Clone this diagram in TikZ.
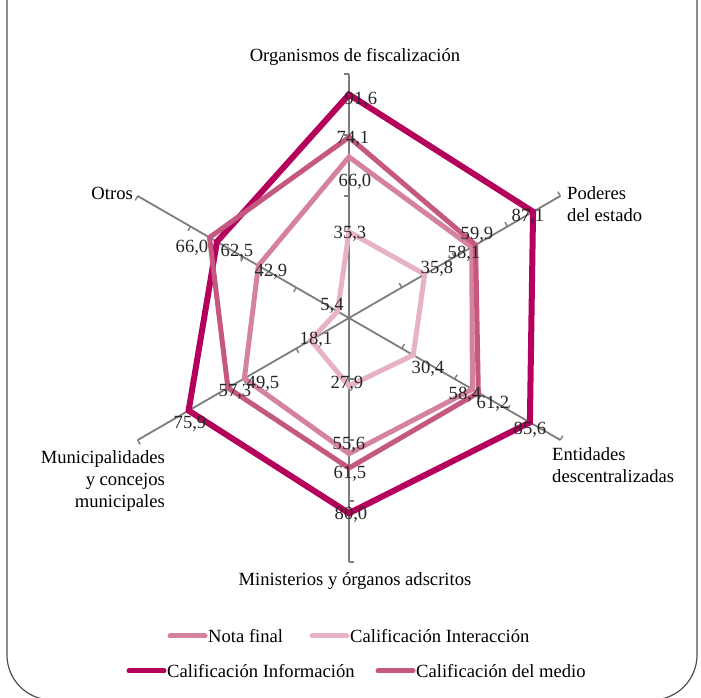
\documentclass[tikz,border=0pt]{standalone}
\usepackage{fontspec}
\setmainfont{Liberation Serif}
\definecolor{notaC}{RGB}{213,130,160}
\definecolor{interC}{RGB}{231,178,197}
\definecolor{infoC}{RGB}{180,0,90}
\definecolor{medioC}{RGB}{197,88,128}
\definecolor{axisC}{RGB}{125,125,125}
\definecolor{frameC}{RGB}{80,80,80}
\begin{document}
\begin{tikzpicture}[x=1pt,y=1pt,
  txt/.style={font=\fontsize{18.6}{22}\selectfont, inner sep=0pt},
  vlabel/.style={txt, text depth=0pt, text=black!85},
  axisline/.style={draw=axisC, line width=1.8pt},
  notaline/.style={draw=notaC, line width=5pt},
  interline/.style={draw=interC, line width=5pt},
  infoline/.style={draw=infoC, line width=6pt},
  medioline/.style={draw=medioC, line width=5pt},
  swatch/.style={line cap=round, line width=5pt}]
\clip (0,0) rectangle (701,698);
% outer frame, its top edge runs off the page
\draw[frameC, line width=1.2pt, rounded corners=45pt] (7,-2) rectangle (697,760);

\def\k{2.44}
\coordinate (c) at (349,380);
\begin{scope}[shift={(c)}]
  % axes with tick marks every 25 units
  \foreach \i in {1,...,6} {
    \coordinate (ax-\i) at ({150-60*\i}:{100*\k});
    \draw[axisline] (c) -- (ax-\i);
    \foreach \r in {25,50,75,100}
      \draw[axisline, line width=1.4pt] ({150-60*\i}:{\r*\k}) -- ++({240-60*\i}:5);
  }
  % series vertices
  \foreach \v [count=\i] in {66.0,58.1,58.4,55.6,49.5,42.9}
    \coordinate (nota-\i) at ({150-60*\i}:{\v*\k});
  \foreach \v [count=\i] in {35.3,35.8,30.4,27.9,18.1,5.4}
    \coordinate (inter-\i) at ({150-60*\i}:{\v*\k});
  \foreach \v [count=\i] in {91.6,87.1,85.6,80.0,75.9,62.5}
    \coordinate (info-\i) at ({150-60*\i}:{\v*\k});
  \foreach \v [count=\i] in {74.1,59.9,61.2,61.5,57.3,66.0}
    \coordinate (medio-\i) at ({150-60*\i}:{\v*\k});
\end{scope}

\draw[notaline] (nota-1) -- (nota-2) -- (nota-3) -- (nota-4) -- (nota-5) -- (nota-6) -- cycle;
\draw[interline] (inter-1) -- (inter-2) -- (inter-3) -- (inter-4) -- (inter-5) -- (inter-6) -- cycle;
\draw[infoline] (info-1) -- (info-2) -- (info-3) -- (info-4) -- (info-5) -- (info-6) -- cycle;
\draw[medioline] (medio-1) -- (medio-2) -- (medio-3) -- (medio-4) -- (medio-5) -- (medio-6) -- cycle;

% category labels
\node[txt] (cat1) at (355,641) {Organismos de fiscalización};
\node[txt, anchor=west, align=left] (cat2) at (567,494) {Poderes\\del estado};
\node[txt, anchor=west, align=left] (cat3) at (552,233) {Entidades\\descentralizadas};
\node[txt] (cat4) at (355,117) {Ministerios y órganos adscritos};
\node[txt, anchor=east, align=right] (cat5) at (165,217) {Municipalidades\\y concejos\\municipales};
\node[txt, anchor=east] (cat6) at (133,505) {Otros};

% data labels
\node[vlabel] (v1) at (361,600) {91,6};
\node[vlabel] (v2) at (353,561) {74,1};
\node[vlabel] (v3) at (355,518) {66,0};
\node[vlabel] (v4) at (350,466) {35,3};
\node[vlabel] (v5) at (528,483) {87,1};
\node[vlabel] (v6) at (477,465) {59,9};
\node[vlabel] (v7) at (464,446) {58,1};
\node[vlabel] (v8) at (437,431) {35,8};
\node[vlabel] (v9) at (428,331) {30,4};
\node[vlabel] (v10) at (465,305) {58,4};
\node[vlabel] (v11) at (493,296) {61,2};
\node[vlabel] (v12) at (530,270) {85,6};
\node[vlabel] (v13) at (347,316) {27,9};
\node[vlabel] (v14) at (349,255) {55,6};
\node[vlabel] (v15) at (350,226) {61,5};
\node[vlabel] (v16) at (351,185) {80,0};
\node[vlabel] (v17) at (190,276) {75,9};
\node[vlabel] (v18) at (235,308) {57,3};
\node[vlabel] (v19) at (263,316) {49,5};
\node[vlabel] (v20) at (316,360) {18,1};
\node[vlabel] (v21) at (192,452) {66,0};
\node[vlabel] (v22) at (237,448) {62,5};
\node[vlabel] (v23) at (271,428) {42,9};
\node[vlabel] (v24) at (332,394) {5,4};

% legend
\coordinate (s1a) at (170,62); \coordinate (s1b) at (205,62);
\coordinate (s2a) at (312,62); \coordinate (s2b) at (347,62);
\coordinate (s3a) at (129,27); \coordinate (s3b) at (164,27);
\coordinate (s4a) at (378,27); \coordinate (s4b) at (413,27);
\draw[notaC, swatch] (s1a) -- (s1b);
\draw[interC, swatch] (s2a) -- (s2b);
\draw[infoC, swatch] (s3a) -- (s3b);
\draw[medioC, swatch] (s4a) -- (s4b);
\node[txt, anchor=west] (l1) at (208,62) {Nota final};
\node[txt, anchor=west] (l2) at (350,62) {Calificación Interacción};
\node[txt, anchor=west] (l3) at (167,27) {Calificación Información};
\node[txt, anchor=west] (l4) at (416,27) {Calificación del medio};
\end{tikzpicture}
\end{document}
